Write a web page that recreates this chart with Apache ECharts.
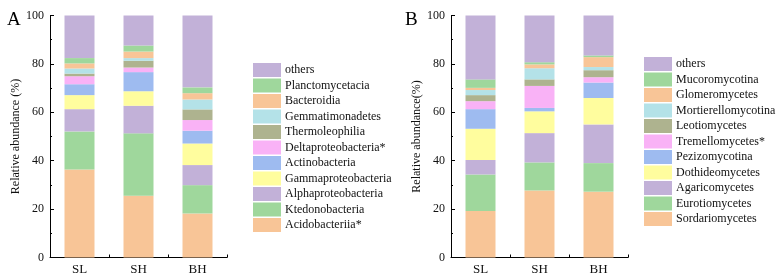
<!DOCTYPE html>
<html>
<head>
<meta charset="utf-8">
<script src="https://cdn.jsdelivr.net/npm/echarts@6/dist/echarts.min.js"></script>
<style>
  html, body { margin: 0; padding: 0; background: #fff; }
  #chart { width: 778px; height: 278px; }
</style>
</head>
<body>
<div id="chart"></div>
<script>
// Two stacked 100% bar panels: bacteria (A) and fungi (B) classes per site.
const sites = ['SL', 'SH', 'BH']
const yTicks = [0, 20, 40, 60, 80, 100]

// panel A, bottom -> top of the stack
const taxaA = ['Acidobacteriia*', 'Ktedonobacteria', 'Alphaproteobacteria', 'Gammaproteobacteria',
  'Actinobacteria', 'Deltaproteobacteria*', 'Thermoleophilia', 'Gemmatimonadetes',
  'Bacteroidia', 'Planctomycetacia', 'others']
const valuesA = [
  [36.4, 25.5, 18.2],
  [15.7, 25.8, 11.7],
  [9.2, 11.4, 8.3],
  [5.8, 6.0, 8.9],
  [4.5, 7.9, 5.3],
  [3.3, 1.9, 4.4],
  [1.1, 2.8, 4.4],
  [2.1, 1.1, 4.1],
  [2.1, 2.7, 2.6],
  [2.2, 2.5, 2.4],
  [17.6, 12.4, 29.7],
]

// panel B, bottom -> top of the stack
const taxaB = ['Sordariomycetes', 'Eurotiomycetes', 'Agaricomycetes', 'Dothideomycetes',
  'Pezizomycotina', 'Tremellomycetes*', 'Leotiomycetes', 'Mortierellomycotina',
  'Glomeromycetes', 'Mucoromycotina', 'others']
const valuesB = [
  [19.2, 27.7, 27.2],
  [15.1, 11.6, 11.8],
  [6.0, 12.1, 16.0],
  [12.9, 9.0, 10.9],
  [8.1, 1.4, 6.4],
  [3.3, 9.1, 2.2],
  [2.5, 2.7, 2.9],
  [2.1, 4.6, 1.3],
  [0.9, 1.6, 4.1],
  [3.5, 0.9, 0.7],
  [26.4, 19.3, 16.5],
]

// same palette for both panels, by stack position
const palette = ['#F8C597', '#9FD79C', '#C2B1D8', '#FFFD9E', '#9EBBF0',
  '#F9B2F6', '#AEB38F', '#B4E2E8', '#F8C597', '#9FD79C', '#C2B1D8']

const font = 'Liberation Serif, Times New Roman, serif'

const makeX = (gi) => ({
  type: 'category', gridIndex: gi, data: sites,
  axisLine: { lineStyle: { color: '#000', width: 1 } },
  axisTick: { show: true, inside: true, length: 3, lineStyle: { color: '#000' } },
  axisLabel: { color: '#111', fontFamily: font, fontSize: 13, margin: 6 },
})

const makeY = (gi, name, gap) => ({
  type: 'value', gridIndex: gi, min: 0, max: 100, interval: 20,
  name, nameLocation: 'middle', nameGap: gap,
  nameTextStyle: { color: '#111', fontFamily: font, fontSize: 12 },
  axisLine: { show: true, lineStyle: { color: '#000', width: 1 } },
  axisTick: { show: true, inside: true, length: 4, lineStyle: { color: '#000' } },
  minorTick: { show: true, splitNumber: 2, length: 2, lineStyle: { color: '#000' } },
  splitLine: { show: false },
  axisLabel: {
    color: '#111', fontFamily: font, fontSize: 12, margin: 6,
    formatter: (v) => (yTicks.includes(v) ? String(v) : ''),
  },
})

const makeSeries = (taxa, values, gi, stack) =>
  taxa.map((name, i) => ({
    type: 'bar', name, stack,
    xAxisIndex: gi, yAxisIndex: gi,
    barWidth: 30,
    data: values[i],
    itemStyle: { color: palette[i] },
    emphasis: { disabled: true },
  }))

const makeLegend = (taxa, left, top) => ({
  orient: 'vertical', left, top,
  data: taxa.slice().reverse(),
  icon: 'rect', itemWidth: 28, itemHeight: 14, itemGap: 1.5,
  textStyle: { color: '#111', fontFamily: font, fontSize: 12, padding: [0, 0, 0, -1] },
  selectedMode: false,
})

const chart = echarts.init(document.getElementById('chart'), null, { renderer: 'canvas' })

chart.setOption({
  animation: false,
  textStyle: { fontFamily: font },
  grid: [
    { left: 50, top: 15.5, width: 177, height: 242 },
    { left: 451, top: 15.5, width: 177, height: 242 },
  ],
  xAxis: [makeX(0), makeX(1)],
  yAxis: [makeY(0, 'Relative abundance (%)', 24), makeY(1, 'Relative abundance(%)', 27)],
  legend: [makeLegend(taxaA, 248, 58), makeLegend(taxaB, 639, 52)],
  title: [
    { text: 'A', left: 2, top: 6, textStyle: { fontFamily: font, fontSize: 19, fontWeight: 'normal', color: '#000' } },
    { text: 'B', left: 400, top: 6, textStyle: { fontFamily: font, fontSize: 19, fontWeight: 'normal', color: '#000' } },
  ],
  series: [...makeSeries(taxaA, valuesA, 0, 'a'), ...makeSeries(taxaB, valuesB, 1, 'b')],
})
</script>
</body>
</html>
